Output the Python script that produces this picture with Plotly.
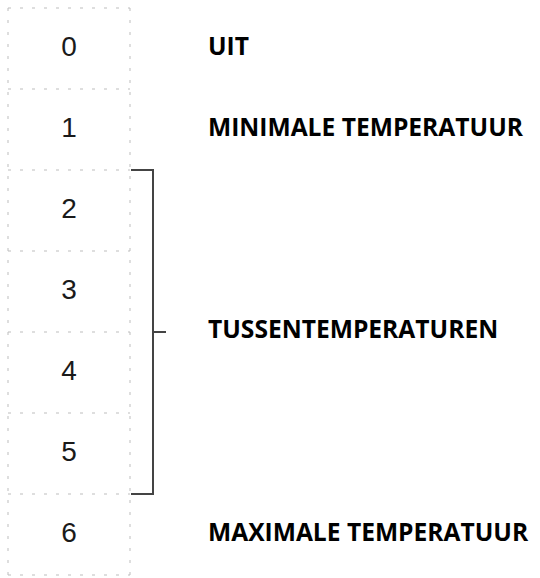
import plotly.graph_objects as go

# Data
levels = [0, 1, 2, 3, 4, 5, 6]
level_labels = ["0", "1", "2", "3", "4", "5", "6"]
desc_texts = ["UIT", "MINIMALE TEMPERATUUR", "TUSSENTEMPERATUREN", "MAXIMALE TEMPERATUUR"]
desc_levels = [0, 1, 3.5, 6]
bracket_from, bracket_to = 2, 5

W, H = 540, 578
top_px, row_px = 8, 81
ymin = -0.5 - top_px / row_px
ymax = -0.5 + (H - top_px) / row_px

cell_x0, cell_x1 = 8, 130
num_x = 69
desc_x = 208
br_x = 153
br_tick = 166

fig = go.Figure()

fig.add_trace(go.Scatter(
    x=[num_x] * len(levels), y=levels, text=level_labels, mode="text",
    textfont=dict(family="Liberation Sans, Arial", size=28, color="#1a1a1a"),
    textposition="middle center", hoverinfo="skip", showlegend=False))

fig.add_trace(go.Scatter(
    x=[desc_x] * len(desc_texts), y=desc_levels,
    text=["<b>%s</b>" % t for t in desc_texts], mode="text",
    textfont=dict(family="Open Sans", size=24.6, color="#000"),
    textposition="middle right", hoverinfo="skip", showlegend=False))

shapes = []
grid = dict(color="#bdbdbd", width=1, dash="3px,9px")
for k in range(len(levels) + 1):
    yb = k - 0.5
    shapes.append(dict(type="line", xref="x", yref="y", x0=cell_x0, x1=cell_x1,
                       y0=yb, y1=yb, line=grid))
for xv in (cell_x0, cell_x1):
    shapes.append(dict(type="line", xref="x", yref="y", x0=xv, x1=xv,
                       y0=-0.5, y1=len(levels) - 0.5, line=grid))

br = dict(color="#444", width=2)
yt, yb2 = bracket_from - 0.5, bracket_to + 0.5
ym = (yt + yb2) / 2
shapes.append(dict(type="path", xref="x", yref="y",
                   path=f"M {cell_x1 + 1},{yt} L {br_x},{yt} L {br_x},{yb2} L {cell_x1 + 1},{yb2}",
                   line=br))
shapes.append(dict(type="line", xref="x", yref="y", x0=br_x, x1=br_tick, y0=ym, y1=ym, line=br))

fig.update_layout(
    width=W, height=H, margin=dict(l=0, r=0, t=0, b=0),
    paper_bgcolor="white", plot_bgcolor="white", shapes=shapes,
    xaxis=dict(range=[0, W], visible=False, fixedrange=True),
    yaxis=dict(range=[ymax, ymin], visible=False, fixedrange=True),
)

fig.write_html("out.html", config={"displayModeBar": False},
               post_script="document.body.style.margin='0';")
